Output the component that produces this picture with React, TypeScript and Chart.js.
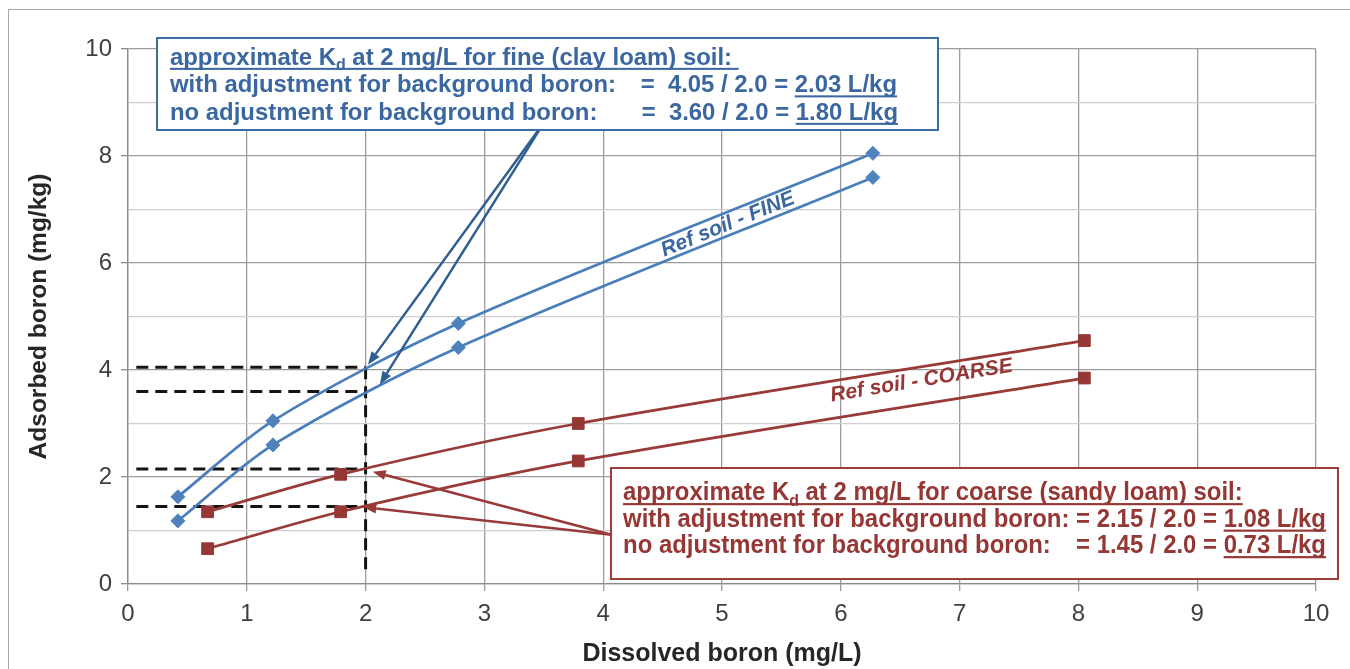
import React, { useEffect, useRef } from 'react';
import { Chart, registerables } from 'chart.js';

Chart.register(...registerables);

// ---------------- data ----------------
const fineX = [0.42, 1.22, 2.78, 6.27];
const fineAdjusted = [1.63, 3.05, 4.87, 8.05];
const fineUnadjusted = [1.18, 2.6, 4.42, 7.6];

const coarseX = [0.67, 1.79, 3.79, 8.05];
const coarseAdjusted = [1.35, 2.05, 3.0, 4.55];
const coarseUnadjusted = [0.66, 1.35, 2.3, 3.85];

const kdConcentration = 2; // mg/L
const fineKdLevels = [4.05, 3.6];
const coarseKdLevels = [2.15, 1.45];
const guideStartX = 0.07;
const guideBottomY = 0.18;

const xTickLabels = [0, 1, 2, 3, 4, 5, 6, 7, 8, 9, 10];
const yTickLabels = [0, 2, 4, 6, 8, 10];

const xTitle = 'Dissolved boron (mg/L)';
const yTitle = 'Adsorbed boron (mg/kg)';
const fineLabel = 'Ref soil - FINE';
const coarseLabel = 'Ref soil - COARSE';

// ---------------- styles ----------------
const FONT = "'Liberation Sans', Arial, Helvetica, sans-serif";
const NARROW = "'Liberation Sans Narrow', 'Arial Narrow', 'Liberation Sans', Arial, sans-serif";
const BLUE_LINE = '#4A7EBB';
const BLUE_MARK = '#4F81BD';
const BLUE_TEXT = '#3A67A0';
const BLUE_ARROW = '#2F5E92';
const RED_LINE = '#983A38';
const RED_MARK = '#953735';
const RED_TEXT = '#953735';
const GUIDE_COLOR = '#141414';

type Seg = { t: string; sub?: boolean; u?: boolean };

function drawSegs(
  ctx: CanvasRenderingContext2D,
  segs: Seg[],
  x: number,
  y: number,
  size: number,
  family: string,
  sx: number,
  color: string,
  align: 'left' | 'right'
) {
  const main = `bold ${size}px ${family}`;
  const sub = `bold ${Math.round(size * 0.66)}px ${family}`;
  const widths = segs.map((s) => {
    ctx.font = s.sub ? sub : main;
    return ctx.measureText(s.t).width * sx;
  });
  const total = widths.reduce((a, b) => a + b, 0);
  let cx = align === 'right' ? x - total : x;
  ctx.fillStyle = color;
  ctx.textAlign = 'left';
  ctx.textBaseline = 'alphabetic';
  segs.forEach((s, i) => {
    ctx.save();
    ctx.translate(cx, y);
    ctx.scale(sx, 1);
    ctx.font = s.sub ? sub : main;
    ctx.fillText(s.t, 0, s.sub ? size * 0.22 : 0);
    ctx.restore();
    if (s.u) ctx.fillRect(cx, y + size * 0.12, widths[i], Math.max(1.5, size * 0.085));
    cx += widths[i];
  });
  return total;
}

function measureSegs(ctx: CanvasRenderingContext2D, segs: Seg[], size: number, family: string) {
  let w = 0;
  segs.forEach((s) => {
    ctx.font = s.sub ? `bold ${Math.round(size * 0.66)}px ${family}` : `bold ${size}px ${family}`;
    w += ctx.measureText(s.t).width;
  });
  return w;
}

function arrow(
  ctx: CanvasRenderingContext2D,
  x0: number,
  y0: number,
  x1: number,
  y1: number,
  color: string
) {
  const ang = Math.atan2(y1 - y0, x1 - x0);
  const hl = 13;
  const hw = 10;
  const bx = x1 - Math.cos(ang) * hl;
  const by = y1 - Math.sin(ang) * hl;
  ctx.save();
  ctx.strokeStyle = color;
  ctx.fillStyle = color;
  ctx.lineWidth = 2.5;
  ctx.beginPath();
  ctx.moveTo(x0, y0);
  ctx.lineTo(bx, by);
  ctx.stroke();
  ctx.beginPath();
  ctx.moveTo(x1, y1);
  ctx.lineTo(bx - Math.sin(ang) * hw / 2, by + Math.cos(ang) * hw / 2);
  ctx.lineTo(bx + Math.sin(ang) * hw / 2, by - Math.cos(ang) * hw / 2);
  ctx.closePath();
  ctx.fill();
  ctx.restore();
}

const framePlugin = {
  id: 'frame',
  beforeDraw(chart: any) {
    const { ctx, width, height } = chart;
    ctx.save();
    ctx.fillStyle = '#ffffff';
    ctx.fillRect(0, 0, width, height);
    ctx.strokeStyle = '#A6A6A6';
    ctx.lineWidth = 1;
    ctx.strokeRect(8.5, 9.5, width + 50, height + 50);
    ctx.restore();
  },
};

const annotationPlugin = {
  id: 'annotations',
  afterDatasetsDraw(chart: any) {
    const { ctx } = chart;
    const xs = chart.scales.x;
    const ys = chart.scales.y;
    const px = (v: number) => xs.getPixelForValue(v);
    const py = (v: number) => ys.getPixelForValue(v);

    // arrows (fine) - start hidden under the text box
    arrow(ctx, px(3.5), py(8.62), px(2.02), py(4.1), BLUE_ARROW);
    arrow(ctx, px(3.5), py(8.62), px(2.12), py(3.73), BLUE_ARROW);
    // arrows (coarse)
    arrow(ctx, px(4.07), py(0.92), px(2.06), py(2.1), RED_LINE);
    arrow(ctx, px(4.07), py(0.92), px(1.98), py(1.44), RED_LINE);

    // rotated series labels
    const drawRot = (text: string, x: number, y: number, deg: number, color: string) => {
      ctx.save();
      ctx.translate(px(x), py(y));
      ctx.rotate((deg * Math.PI) / 180);
      ctx.font = `italic bold 21px ${FONT}`;
      ctx.fillStyle = color;
      ctx.textAlign = 'center';
      ctx.textBaseline = 'middle';
      ctx.fillText(text, 0, 0);
      ctx.restore();
    };
    drawRot(fineLabel, 5.05, 6.72, -22.3, BLUE_TEXT);
    drawRot(coarseLabel, 6.68, 3.8, -9.4, RED_TEXT);

    // fine box
    {
      const l = px(0.244), r = px(6.818), t = py(10.206), b = py(8.486);
      ctx.save();
      ctx.fillStyle = '#ffffff';
      ctx.fillRect(l, t, r - l, b - t);
      ctx.strokeStyle = '#3C6BA5';
      ctx.lineWidth = 2;
      ctx.strokeRect(l, t, r - l, b - t);
      const size = 23.9;
      drawSegs(ctx, [
        { t: 'approximate K', u: true },
        { t: 'd', sub: true, u: true },
        { t: ' at 2 mg/L for fine (clay loam) soil: ', u: true },
      ], l + 13, t + 27, size, FONT, 1, BLUE_TEXT, 'left');
      drawSegs(ctx, [{ t: 'with adjustment for background boron:' }], l + 13, t + 54.5, size, FONT, 1, BLUE_TEXT, 'left');
      drawSegs(ctx, [{ t: '=  4.05 / 2.0 = ' }, { t: '2.03 L/kg', u: true }], r - 41, t + 54.5, size, FONT, 1, BLUE_TEXT, 'right');
      drawSegs(ctx, [{ t: 'no adjustment for background boron:' }], l + 13, t + 82, size, FONT, 1, BLUE_TEXT, 'left');
      drawSegs(ctx, [{ t: '=  3.60 / 2.0 = ' }, { t: '1.80 L/kg', u: true }], r - 40, t + 82, size, FONT, 1, BLUE_TEXT, 'right');
      ctx.restore();
    }

    // coarse box
    {
      const l = px(4.066), r = px(10.185), t = py(2.168), b = py(0.093);
      ctx.save();
      ctx.fillStyle = '#ffffff';
      ctx.fillRect(l, t, r - l, b - t);
      ctx.strokeStyle = '#9A3B3A';
      ctx.lineWidth = 2;
      ctx.strokeRect(l, t, r - l, b - t);
      const size = 25.5;
      const line2: Seg[] = [{ t: 'with adjustment for background boron: = 2.15 / 2.0 = ' }, { t: '1.08 L/kg', u: true }];
      const target = (r - 12) - (l + 12);
      const sx = target / measureSegs(ctx, line2, size, NARROW);
      drawSegs(ctx, [
        { t: 'approximate K', u: true },
        { t: 'd', sub: true, u: true },
        { t: ' at 2 mg/L for coarse (sandy loam) soil:', u: true },
      ], l + 12, t + 32, size, NARROW, sx, RED_TEXT, 'left');
      drawSegs(ctx, line2, l + 12, t + 58.5, size, NARROW, sx, RED_TEXT, 'left');
      drawSegs(ctx, [{ t: 'no adjustment for background boron:' }], l + 12, t + 85, size, NARROW, sx, RED_TEXT, 'left');
      drawSegs(ctx, [{ t: '= 1.45 / 2.0 = ' }, { t: '0.73 L/kg', u: true }], r - 12, t + 85, size, NARROW, sx, RED_TEXT, 'right');
      ctx.restore();
    }
  },
};

function pts(xs: number[], ys: number[]) {
  return xs.map((x, i) => ({ x, y: ys[i] }));
}

function guide(y: number) {
  return {
    data: [{ x: guideStartX, y }, { x: kdConcentration, y }],
    borderColor: GUIDE_COLOR,
    borderWidth: 3,
    borderDash: [12, 7],
    pointRadius: 0,
    showLine: true,
    tension: 0,
    order: 10,
  };
}

export default function App() {
  const ref = useRef<HTMLCanvasElement>(null);

  useEffect(() => {
    const canvas = ref.current;
    if (!canvas) return;

    const series = (xs: number[], ys: number[], line: string, mark: string, style: string, radius: number) => ({
      data: pts(xs, ys),
      showLine: true,
      borderColor: line,
      borderWidth: 2.75,
      tension: 0.3,
      pointStyle: style,
      pointRadius: radius,
      pointBackgroundColor: mark,
      pointBorderColor: mark,
      pointBorderWidth: 1,
      order: 1,
    });

    const chart = new Chart(canvas, {
      type: 'scatter',
      data: {
        datasets: [
          ...fineKdLevels.map(guide),
          ...coarseKdLevels.map(guide),
          {
            data: [{ x: kdConcentration, y: Math.max(...fineKdLevels) }, { x: kdConcentration, y: guideBottomY }],
            borderColor: GUIDE_COLOR,
            borderWidth: 3,
            borderDash: [12, 7],
            pointRadius: 0,
            showLine: true,
            tension: 0,
            order: 10,
          },
          series(fineX, fineAdjusted, BLUE_LINE, BLUE_MARK, 'rectRot', 7),
          series(fineX, fineUnadjusted, BLUE_LINE, BLUE_MARK, 'rectRot', 7),
          series(coarseX, coarseAdjusted, RED_LINE, RED_MARK, 'rect', 8.3),
          series(coarseX, coarseUnadjusted, RED_LINE, RED_MARK, 'rect', 8.3),
        ] as any,
      },
      options: {
        responsive: false,
        animation: false,
        devicePixelRatio: 1,
        layout: { padding: { left: 0, top: 49, right: 34, bottom: 0 } },
        plugins: {
          legend: { display: false },
          tooltip: { enabled: false },
        },
        scales: {
          x: {
            type: 'linear',
            min: 0,
            max: 10,
            afterFit: (s: any) => {
              s.height = 85;
            },
            ticks: {
              stepSize: 1,
              color: '#404040',
              font: { family: FONT, size: 24 },
              padding: 9,
              callback: (v: any) => (xTickLabels.includes(Number(v)) ? String(v) : ''),
            },
            grid: {
              color: '#9C9C9C',
              lineWidth: 1.3,
              tickLength: 7,
              tickColor: '#9C9C9C',
            },
            border: { color: '#8C8C8C', width: 1.3 },
            title: {
              display: true,
              text: xTitle,
              color: '#262626',
              font: { family: FONT, size: 25, weight: 'bold' },
              padding: { top: 0, bottom: 0 },
            },
          },
          y: {
            type: 'linear',
            min: 0,
            max: 10,
            afterFit: (s: any) => {
              s.width = 128;
            },
            ticks: {
              stepSize: 1,
              color: '#404040',
              font: { family: FONT, size: 24 },
              padding: 9,
              callback: (v: any) => (yTickLabels.includes(Number(v)) ? String(v) : ''),
            },
            grid: {
              color: (c: any) => (c.tick && c.tick.value % 2 === 0 ? '#9C9C9C' : '#CFCFCF'),
              lineWidth: 1.3,
              tickLength: 7,
              tickColor: (c: any) => (c.tick && c.tick.value % 2 === 0 ? '#8C8C8C' : 'rgba(0,0,0,0)'),
            },
            border: { color: '#8C8C8C', width: 1.3 },
            title: {
              display: true,
              text: yTitle,
              color: '#262626',
              font: { family: FONT, size: 24.5, weight: 'bold' },
              padding: { top: 25, bottom: 0 },
            },
          },
        },
      } as any,
      plugins: [framePlugin, annotationPlugin],
    });

    return () => chart.destroy();
  }, []);

  return (
    <div style={{ position: 'absolute', left: 0, top: 0, width: 1350, height: 669 }}>
      <canvas ref={ref} width={1350} height={669} style={{ display: 'block', width: 1350, height: 669 }} />
    </div>
  );
}
